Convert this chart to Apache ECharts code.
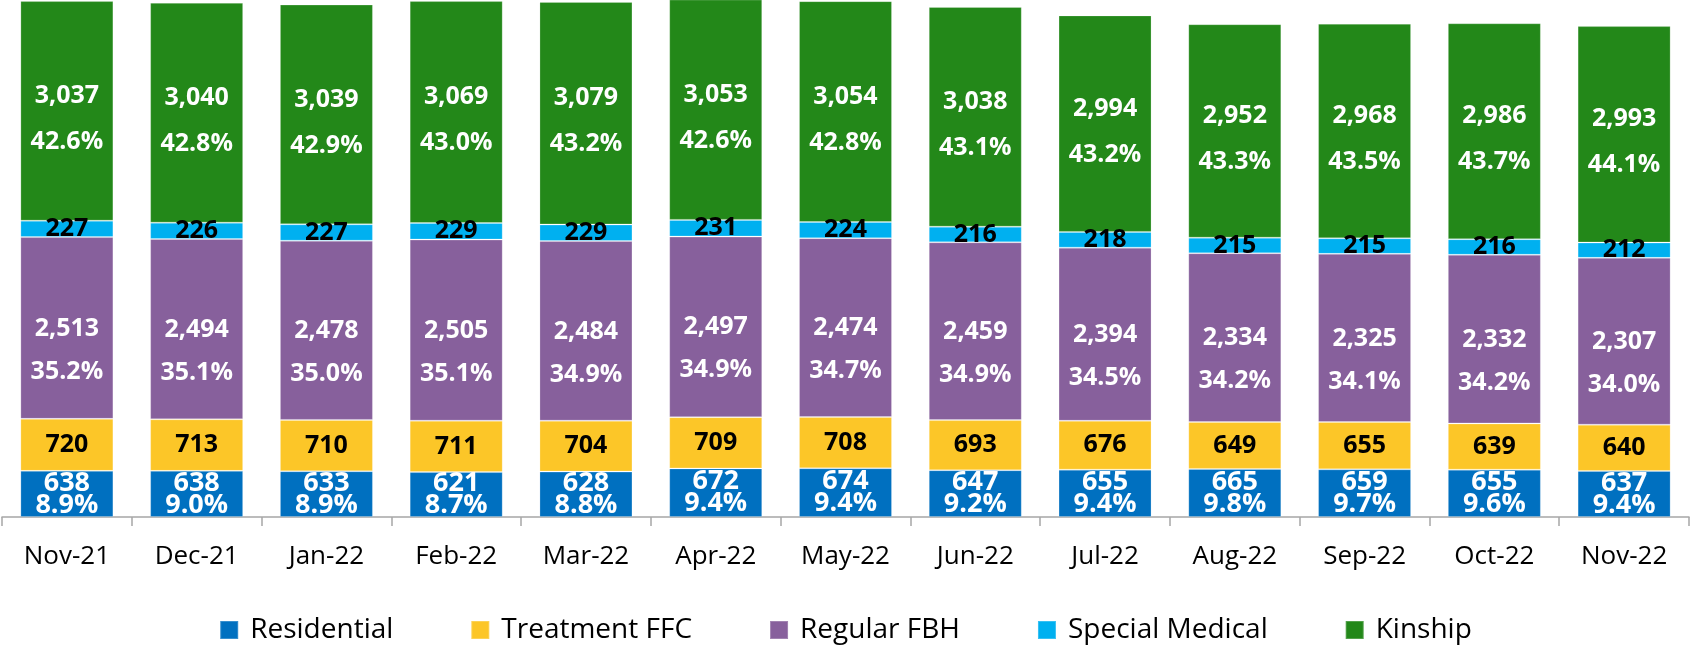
<!DOCTYPE html>
<html>
<head>
<meta charset="utf-8">
<script src="https://cdn.jsdelivr.net/npm/echarts@6/dist/echarts.min.js"></script>
<style>
html,body{margin:0;padding:0;background:#fff;}
#chart{width:1691px;height:646px;}
</style>
</head>
<body>
<div id="chart"></div>
<script>
const categories = ['Nov-21','Dec-21','Jan-22','Feb-22','Mar-22','Apr-22','May-22','Jun-22','Jul-22','Aug-22','Sep-22','Oct-22','Nov-22'];
const residential = [638,638,633,621,628,672,674,647,655,665,659,655,637];
const residentialPct = [8.9,9.0,8.9,8.7,8.8,9.4,9.4,9.2,9.4,9.8,9.7,9.6,9.4];
const treatmentFFC = [720,713,710,711,704,709,708,693,676,649,655,639,640];
const regularFBH = [2513,2494,2478,2505,2484,2497,2474,2459,2394,2334,2325,2332,2307];
const regularPct = [35.2,35.1,35.0,35.1,34.9,34.9,34.7,34.9,34.5,34.2,34.1,34.2,34.0];
const specialMedical = [227,226,227,229,229,231,224,216,218,215,215,216,212];
const kinship = [3037,3040,3039,3069,3079,3053,3054,3038,2994,2952,2968,2986,2993];
const kinshipPct = [42.6,42.8,42.9,43.0,43.2,42.6,42.8,43.1,43.2,43.3,43.5,43.7,44.1];

const FONT = '"Open Sans", "Liberation Sans", sans-serif';
const fmt = v => v.toLocaleString('en-US');
const pct = v => v.toFixed(1) + '%';

function twoLine(pctArr, lh, color, offY, size) {
  return {
    show: true,
    position: 'inside',
    offset: [0, offY],
    formatter: p => '{v|' + fmt(p.value) + '}\n{p|' + pct(pctArr[p.dataIndex]) + '}',
    rich: {
      v: {fontFamily: FONT, fontWeight: 'bold', fontSize: size, color: color, lineHeight: lh},
      p: {fontFamily: FONT, fontWeight: 'bold', fontSize: size, color: color, lineHeight: lh}
    }
  };
}
function oneLine(color) {
  return {
    show: true,
    position: 'inside',
    formatter: p => fmt(p.value),
    fontFamily: FONT, fontWeight: 'bold', fontSize: 25, color: color
  };
}

const border = {borderColor: 'rgba(255,255,255,0.22)', borderWidth: 1};

const chart = echarts.init(document.getElementById('chart'), null, {renderer: 'canvas'});
chart.setOption({
  animation: false,
  backgroundColor: '#ffffff',
  grid: {left: 2, right: 2, top: 0, bottom: 129, containLabel: false},
  legend: {
    top: 611,
    left: 'center',
    itemWidth: 18,
    itemHeight: 18,
    itemGap: 77,
    icon: 'rect',
    textStyle: {fontFamily: FONT, fontSize: 28, color: '#000', padding: [0, 0, 0, 7]},
    data: ['Residential','Treatment FFC','Regular FBH','Special Medical','Kinship']
  },
  xAxis: {
    type: 'category',
    data: categories,
    boundaryGap: true,
    axisLine: {lineStyle: {color: '#A6A6A6', width: 1.5}},
    axisTick: {show: true, length: 9, lineStyle: {color: '#A6A6A6', width: 1.5}},
    axisLabel: {fontFamily: FONT, fontSize: 26, color: '#000', margin: 27}
  },
  yAxis: {
    type: 'value',
    min: 0,
    max: 7150,
    show: false,
    splitLine: {show: false}
  },
  series: [
    {name: 'Residential', type: 'bar', stack: 'total', barWidth: 93, data: residential,
     itemStyle: Object.assign({color: '#0070C0'}, border),
     label: twoLine(residentialPct, 22, '#fff', 0, 27)},
    {name: 'Treatment FFC', type: 'bar', stack: 'total', barWidth: 93, data: treatmentFFC,
     itemStyle: Object.assign({color: '#FCC628'}, border),
     label: oneLine('#000')},
    {name: 'Regular FBH', type: 'bar', stack: 'total', barWidth: 93, data: regularFBH,
     itemStyle: Object.assign({color: '#87609C'}, border),
     label: twoLine(regularPct, 43, '#fff', 22, 25)},
    {name: 'Special Medical', type: 'bar', stack: 'total', barWidth: 93, data: specialMedical,
     itemStyle: Object.assign({color: '#00B0F0'}, border),
     label: oneLine('#000')},
    {name: 'Kinship', type: 'bar', stack: 'total', barWidth: 93, data: kinship,
     itemStyle: Object.assign({color: '#238819'}, border),
     label: twoLine(kinshipPct, 46, '#fff', 8, 25)}
  ]
});
</script>
</body>
</html>
